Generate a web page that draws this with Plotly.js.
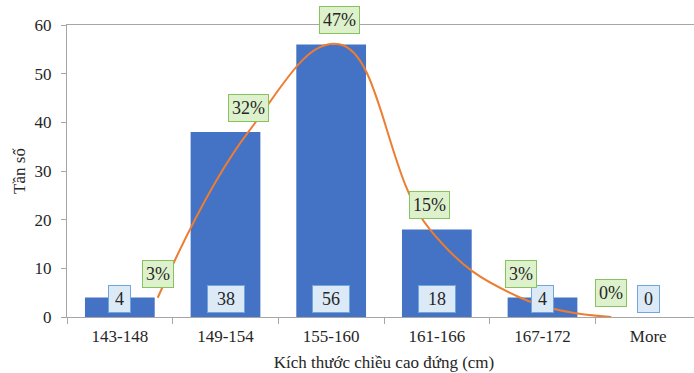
<!DOCTYPE html>
<html>
<head>
<meta charset="utf-8">
<script src="https://cdn.plot.ly/plotly-3.0.1.min.js"></script>
<style>
html,body{margin:0;padding:0;overflow:hidden;background:#fff;}
#chart{width:710px;height:373px;}
</style>
</head>
<body>
<div id="chart"></div>
<script>
// Data
const categories = ["143-148", "149-154", "155-160", "161-166", "167-172", "More"];
const frequency = [4, 38, 56, 18, 4, 0];
const percentShare = [0.033, 0.317, 0.467, 0.15, 0.033, 0];

const FONT = "'Liberation Serif', 'DejaVu Serif', serif";
const TXT = "#262626";

const bars = {
  type: "bar",
  x: categories,
  y: frequency,
  marker: {color: "#4472C4"},
  width: 0.66,
  hoverinfo: "x+y",
  xaxis: "x", yaxis: "y"
};

const curve = {
  type: "scatter",
  mode: "lines",
  x: categories,
  y: percentShare,
  line: {color: "#ED7D31", width: 2, shape: "spline", smoothing: 1.2},
  xaxis: "x2", yaxis: "y2",
  hoverinfo: "y"
};

const annotations = [];
categories.forEach((c, i) => {
  annotations.push({
    xref: "x", yref: "y", x: c, y: 0,
    yanchor: "bottom", yshift: 4,
    text: String(frequency[i]),
    showarrow: false,
    font: {family: FONT, size: 18, color: TXT},
    bgcolor: "#DCEAF8", bordercolor: "#6FA6DC", borderwidth: 1, borderpad: 3,
    width: frequency[i] >= 10 ? 30 : 15
  });
  annotations.push({
    xref: "x2", yref: "y2", x: c, y: percentShare[i],
    yanchor: "bottom", yshift: 10,
    text: Math.round(percentShare[i] * 100) + "%",
    showarrow: false,
    font: {family: FONT, size: 18, color: TXT},
    bgcolor: "#DDF2CC", bordercolor: "#86C35E", borderwidth: 1, borderpad: 3
  });
});

const layout = {
  width: 710, height: 373,
  margin: {l: 67, r: 9, t: 25, b: 56},
  paper_bgcolor: "#ffffff", plot_bgcolor: "#ffffff",
  showlegend: false,
  font: {family: FONT, size: 17, color: TXT},
  xaxis: {
    type: "category",
    range: [-0.5, 5.5],
    showline: true, linecolor: "#A6A6A6", linewidth: 1,
    ticks: "outside", tickson: "boundaries", ticklen: 6, tickcolor: "#A6A6A6",
    tickfont: {family: FONT, size: 17, color: TXT},
    ticklabelstandoff: 4,
    showgrid: false, zeroline: false,
    title: {text: "Kích thước chiều cao đứng (cm)", font: {family: FONT, size: 17, color: TXT}, standoff: 10}
  },
  yaxis: {
    range: [0, 60], dtick: 10,
    showline: true, linecolor: "#A6A6A6", linewidth: 1,
    ticks: "outside", ticklen: 5, tickcolor: "#A6A6A6",
    tickfont: {family: FONT, size: 17, color: TXT},
    ticklabelstandoff: 6,
    showgrid: false, zeroline: false,
    title: {text: "Tần số", font: {family: FONT, size: 17, color: TXT}, standoff: 4}
  },
  xaxis2: {
    type: "category",
    overlaying: "x", side: "top",
    range: [-1, 5.99],
    showline: true, linecolor: "#A6A6A6", linewidth: 1,
    showticklabels: false, ticks: "", showgrid: false, zeroline: false
  },
  yaxis2: {
    overlaying: "y", side: "right",
    range: [0, 0.5],
    showline: false, showticklabels: false, ticks: "", showgrid: false, zeroline: false
  },
  annotations: annotations
};

Plotly.newPlot("chart", [bars, curve], layout, {displayModeBar: false, staticPlot: true});
</script>
</body>
</html>
